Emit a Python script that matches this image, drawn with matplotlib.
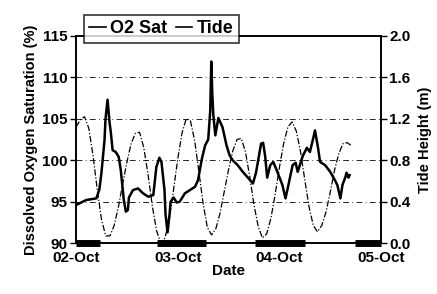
import matplotlib
matplotlib.use("Agg")
import matplotlib.pyplot as plt
import numpy as np

# time in days after 02-Oct 00:00
o2_days = [0.00, 0.05, 0.10, 0.15, 0.20, 0.23, 0.25, 0.28, 0.29, 0.31, 0.33, 0.34, 0.36,
           0.39, 0.42, 0.44, 0.47, 0.49, 0.51, 0.52, 0.56, 0.61, 0.66, 0.71, 0.76, 0.79,
           0.82, 0.84, 0.87, 0.88, 0.90, 0.92, 0.93, 0.96, 0.99, 1.02, 1.07, 1.12, 1.17,
           1.20, 1.22, 1.24, 1.27, 1.30, 1.32, 1.33, 1.34, 1.35, 1.37, 1.40, 1.44, 1.48,
           1.51, 1.54, 1.59, 1.64, 1.69, 1.74, 1.77, 1.82, 1.84, 1.86, 1.88, 1.91, 1.94,
           1.98, 2.03, 2.06, 2.08, 2.13, 2.16, 2.18, 2.23, 2.27, 2.30, 2.33, 2.35, 2.38,
           2.40, 2.45, 2.50, 2.55, 2.57, 2.60, 2.62, 2.65, 2.66, 2.68, 2.69]
o2_sat = [94.6, 94.9, 95.2, 95.3, 95.4, 96.5, 98.5, 102.4, 105.0, 107.3, 104.5, 103.6, 101.2,
          101.0, 100.4, 98.8, 95.2, 93.8, 94.0, 95.5, 96.4, 96.6, 96.0, 95.6, 95.8, 99.2,
          100.3, 99.8, 96.4, 93.5, 91.3, 93.5, 95.0, 95.5, 94.9, 95.0, 96.0, 96.4, 96.8,
          97.6, 99.0, 100.3, 101.8, 102.5, 106.0, 111.9, 108.0, 105.5, 103.0, 105.1, 104.0, 101.8,
          100.6, 100.0, 99.4, 98.6, 97.9, 97.2, 98.5, 102.0, 102.1, 100.5, 97.9, 99.4, 99.8,
          98.6, 97.0, 95.4, 96.5, 99.4, 99.7, 98.6, 100.5, 101.5, 101.0, 102.5, 103.6, 101.5,
          99.8, 99.4, 98.6, 97.5, 97.0, 95.4, 97.0, 98.0, 98.5, 97.9, 98.2]

# hourly tide height (m)
tide_hours = list(range(0, 66))
tide_height = [1.12, 1.19, 1.22, 1.11, 0.85, 0.52, 0.23, 0.07, 0.07, 0.17, 0.35, 0.57,
               0.78, 0.96, 1.06, 1.07, 0.92, 0.66, 0.36, 0.12, 0.00, 0.05, 0.23, 0.51,
               0.81, 1.06, 1.20, 1.18, 0.99, 0.69, 0.38, 0.15, 0.08, 0.14, 0.29, 0.50,
               0.71, 0.89, 1.00, 1.01, 0.88, 0.64, 0.37, 0.16, 0.05, 0.09, 0.24, 0.47,
               0.73, 0.96, 1.12, 1.17, 1.08, 0.88, 0.61, 0.35, 0.17, 0.11, 0.17, 0.30,
               0.49, 0.70, 0.86, 0.96, 0.97, 0.94]

# night periods (days)
night_start = [0.00, 0.80, 1.76, 2.74]
night_end = [0.24, 1.28, 2.25, 3.00]

date_labels = ["02-Oct", "03-Oct", "04-Oct", "05-Oct"]

plt.rcParams['font.family'] = ['Liberation Sans', 'DejaVu Sans']
plt.rcParams['font.weight'] = 'bold'

fig = plt.figure(figsize=(4.37, 2.94), dpi=100)
ax = fig.add_axes([0.174, 0.173, 0.698, 0.705])
ax2 = ax.twinx()

for y in [95, 100, 105, 110]:
    ax.axhline(y, color="black", lw=0.6, dashes=(7, 4, 1, 4), zorder=1)

line_o2, = ax.plot(o2_days, o2_sat, color="black", lw=1.8, zorder=3)
tide_days = np.array(tide_hours) / 24.0
line_tide, = ax2.plot(tide_days, tide_height, color="black", lw=0.9, dashes=(5, 1.5, 1, 1.5))

for s, e in zip(night_start, night_end):
    ax.plot([s, e], [90, 90], color="black", lw=5, solid_capstyle="butt", clip_on=False, zorder=4)

ax.set_xlim(0, 3)
ax.set_ylim(90, 115)
ax2.set_ylim(0, 2.0)
ax.set_xticks([0, 1, 2, 3])
ax.set_xticklabels(date_labels)
ax.set_yticks([90, 95, 100, 105, 110, 115])
ax2.set_yticks([0.0, 0.4, 0.8, 1.2, 1.6, 2.0])
ax2.set_yticklabels(["0.0", "0.4", "0.8", "1.2", "1.6", "2.0"])

ax.tick_params(axis="both", labelsize=11, length=4, width=1, pad=2)
ax2.tick_params(axis="y", labelsize=11, length=4, width=1, pad=2)
ax.tick_params(axis="x", length=0, pad=6)

for a in [ax, ax2]:
    for sp in a.spines.values():
        sp.set_linewidth(1.2)

ax.set_xlabel("Date", fontsize=11, fontweight="bold", labelpad=-1)
ax.set_ylabel("Dissolved Oxygen Saturation (%)", fontsize=10.5, fontweight="bold", labelpad=3)
ax2.set_ylabel("Tide Height (m)", fontsize=10.5, fontweight="bold", labelpad=5)

leg = ax2.legend([line_o2, line_tide], ["O2 Sat", "Tide"], loc="upper left",
                 bbox_to_anchor=(0.192, 0.949), bbox_transform=fig.transFigure,
                 ncol=2, frameon=True, fancybox=False, fontsize=13,
                 handlelength=0.9, handletextpad=0.25, columnspacing=0.5,
                 borderpad=0.3, borderaxespad=0)
leg.get_frame().set_edgecolor("black")
leg.get_frame().set_linewidth(1.2)
for h in leg.get_lines():
    h.set_linestyle("-")
    h.set_linewidth(1.2)

fig.savefig("out.png", dpi=100)
